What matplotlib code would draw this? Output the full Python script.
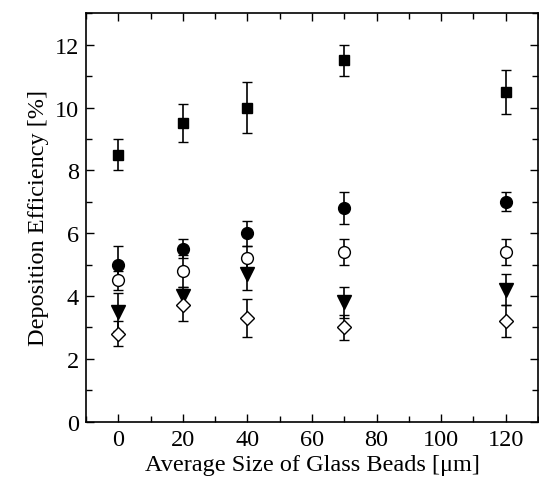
import matplotlib
matplotlib.use("Agg")
import matplotlib.pyplot as plt
from matplotlib.ticker import MultipleLocator

plt.rcParams['font.family'] = ['Liberation Serif', 'DejaVu Serif']
plt.rcParams['mathtext.fontset'] = 'stix'

sizes = [0, 20, 40, 70, 120]

sq_vals = [8.5, 9.5, 10.0, 11.5, 10.5]
sq_err = [0.5, 0.6, 0.8, 0.5, 0.7]

fc_vals = [5.0, 5.5, 6.0, 6.8, 7.0]
fc_err = [0.6, 0.3, 0.4, 0.5, 0.3]

oc_vals = [4.5, 4.8, 5.2, 5.4, 5.4]
oc_err = [0.3, 0.5, 0.4, 0.4, 0.4]

tri_vals = [3.5, 4.0, 4.7, 3.8, 4.2]
tri_err = [0.6, 0.3, 0.5, 0.5, 0.5]

dia_vals = [2.8, 3.7, 3.3, 3.0, 3.2]
dia_err = [0.4, 0.5, 0.6, 0.4, 0.5]

fig = plt.figure(figsize=(5.39, 4.89), dpi=100)
ax = fig.add_axes([0.1596, 0.1356, 0.998 - 0.1596, 0.9708 - 0.1356])

common = dict(ls='none', ecolor='black', elinewidth=1.2, capsize=3.5, capthick=1.2,
              markeredgecolor='black', markeredgewidth=1.0)

ax.errorbar(sizes, sq_vals, yerr=sq_err, fmt='s', markersize=7.5, markerfacecolor='black', **common)
ax.errorbar(sizes, fc_vals, yerr=fc_err, fmt='o', markersize=8.5, markerfacecolor='black', **common)
ax.errorbar(sizes, oc_vals, yerr=oc_err, fmt='o', markersize=8.5, markerfacecolor='white', **common)
ax.errorbar(sizes, tri_vals, yerr=tri_err, fmt='v', markersize=9.5, markerfacecolor='black', **common)
ax.errorbar(sizes, dia_vals, yerr=dia_err, fmt='D', markersize=7.5, markerfacecolor='white', **common)

ax.set_xlim(-10, 130)
ax.set_ylim(0, 13)
ax.xaxis.set_major_locator(MultipleLocator(20))
ax.xaxis.set_minor_locator(MultipleLocator(10))
ax.yaxis.set_major_locator(MultipleLocator(2))
ax.yaxis.set_minor_locator(MultipleLocator(1))
ax.tick_params(which='both', direction='in', top=True, right=True, labelsize=17.5, width=1.0)
ax.tick_params(which='major', length=6, pad=5)
ax.tick_params(which='minor', length=4)
for s in ax.spines.values():
    s.set_linewidth(1.2)

ax.set_xlabel('Average Size of Glass Beads [μm]', fontsize=17.5, labelpad=3)
ax.set_ylabel('Deposition Efficiency [%]', fontsize=17.5, labelpad=4)

fig.savefig('out.png', dpi=100)
